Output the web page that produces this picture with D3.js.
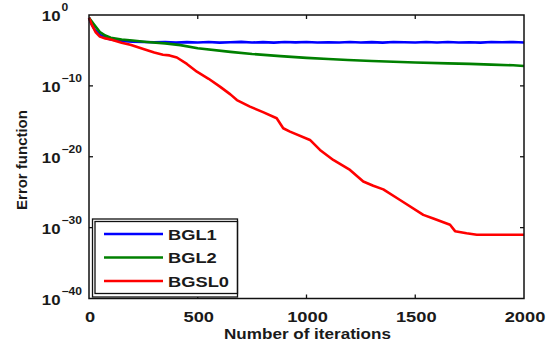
<!DOCTYPE html>
<html>
<head>
<meta charset="utf-8">
<script src="https://cdn.jsdelivr.net/npm/d3@7"></script>
<style>
  body { margin: 0; background: #fff; }
  text { font-family: "Liberation Sans", Arial, sans-serif; font-weight: bold; fill: #1a1a1a; }
</style>
</head>
<body>
<svg width="553" height="347"></svg>
<script>
// values are log10 of the error
const bgl1Iter = [0, 10, 25, 50, 75, 100, 150, 200, 250, 300, 350, 400, 450, 500, 550, 600, 650, 700, 750, 800, 850, 900, 950, 1000, 1050, 1100, 1150, 1200, 1250, 1300, 1350, 1400, 1450, 1500, 1550, 1600, 1650, 1700, 1750, 1800, 1850, 1900, 1950, 2000];
const bgl1Exp = [-0.4, -1.2, -2.0, -2.8, -3.2, -3.45, -3.65, -3.75, -3.8, -3.85, -3.8, -3.9, -3.83, -3.87, -3.81, -3.9, -3.85, -3.79, -3.88, -3.83, -3.9, -3.82, -3.86, -3.8, -3.89, -3.84, -3.88, -3.81, -3.87, -3.83, -3.9, -3.81, -3.85, -3.89, -3.82, -3.87, -3.8, -3.88, -3.84, -3.9, -3.82, -3.85, -3.81, -3.87];

const bgl2Iter = [0, 25, 50, 75, 100, 150, 200, 266, 350, 420, 500, 650, 750, 880, 1000, 1100, 1190, 1300, 1400, 1500, 1650, 1750, 1850, 1950, 2000];
const bgl2Exp = [-0.4, -1.4, -2.4, -2.9, -3.2, -3.45, -3.6, -3.8, -4.0, -4.25, -4.7, -5.2, -5.5, -5.8, -6.05, -6.2, -6.36, -6.5, -6.6, -6.7, -6.83, -6.9, -7.0, -7.1, -7.2];

const bgsl0Iter = [0, 15, 30, 50, 75, 100, 150, 190, 250, 300, 340, 370, 404, 450, 496, 550, 602, 650, 680, 740, 800, 863, 893, 924, 1016, 1062, 1123, 1200, 1261, 1307, 1353, 1430, 1537, 1583, 1660, 1683, 1736, 1783, 1850, 1950, 2000];
const bgsl0Exp = [-0.4, -1.5, -2.4, -3.05, -3.3, -3.45, -3.9, -4.2, -4.8, -5.3, -5.6, -5.7, -6.0, -6.9, -8.0, -9.0, -10.1, -11.2, -12.0, -12.93, -13.7, -14.57, -15.98, -16.45, -17.63, -19.04, -20.45, -21.86, -23.5, -24.1, -24.6, -26.1, -28.2, -28.7, -29.6, -30.5, -30.8, -31.0, -31.0, -31.0, -31.0];

const seriesNames = ["BGL1", "BGL2", "BGSL0"];
const seriesColors = ["#0000ff", "#008000", "#ff0000"];
const xTicks = [0, 500, 1000, 1500, 2000];
const yTickExp = [0, -10, -20, -30, -40];

const svg = d3.select("svg");
const plotLeft = 89, plotRight = 524, plotTop = 15, plotBottom = 298.5;
const HS = 1.22; // the original picture is stretched sideways a bit

const x = d3.scaleLinear().domain([0, 2000]).range([plotLeft, plotRight]);
const y = d3.scaleLog().domain([1e-40, 1]).range([plotBottom, plotTop]);

const series = [
  { name: seriesNames[0], color: seriesColors[0], pts: bgl1Iter.map((it, i) => [it, Math.pow(10, bgl1Exp[i])]) },
  { name: seriesNames[1], color: seriesColors[1], pts: bgl2Iter.map((it, i) => [it, Math.pow(10, bgl2Exp[i])]) },
  { name: seriesNames[2], color: seriesColors[2], pts: bgsl0Iter.map((it, i) => [it, Math.pow(10, bgsl0Exp[i])]) }
];

const line = d3.line().x(d => x(d[0])).y(d => y(d[1]));

function stretched(g, tx, ty, sx) {
  return g.append("text").attr("transform", "translate(" + tx + "," + ty + ") scale(" + sx + ",1)");
}

// lines
svg.append("g").selectAll("path")
  .data(series)
  .join("path")
  .attr("d", d => line(d.pts))
  .attr("fill", "none")
  .attr("stroke", d => d.color)
  .attr("stroke-width", 2.6)
  .attr("stroke-linejoin", "round");

// ticks (inside, on all four sides)
const tk = svg.append("g").attr("stroke", "#111").attr("stroke-width", 1.3);
xTicks.slice(1, -1).forEach(t => {
  tk.append("line").attr("x1", x(t)).attr("x2", x(t)).attr("y1", plotBottom).attr("y2", plotBottom - 4);
  tk.append("line").attr("x1", x(t)).attr("x2", x(t)).attr("y1", plotTop).attr("y2", plotTop + 4);
});
yTickExp.slice(1, -1).forEach(e => {
  const yy = y(Math.pow(10, e));
  tk.append("line").attr("x1", plotLeft).attr("x2", plotLeft + 4).attr("y1", yy).attr("y2", yy);
  tk.append("line").attr("x1", plotRight).attr("x2", plotRight - 4).attr("y1", yy).attr("y2", yy);
});

// frame
svg.append("rect")
  .attr("x", plotLeft).attr("y", plotTop)
  .attr("width", plotRight - plotLeft).attr("height", plotBottom - plotTop)
  .attr("fill", "none").attr("stroke", "#111").attr("stroke-width", 1.5);

// x tick labels
const xl = svg.append("g");
xTicks.forEach(t => {
  stretched(xl, x(t) + 1, 322, HS)
    .attr("text-anchor", "middle").attr("font-size", 15).text(t);
});

// y tick labels: 10 with superscript
const yl = svg.append("g");
yTickExp.forEach(e => {
  const yy = y(Math.pow(10, e));
  stretched(yl, 60.5, yy + 6, 1.12)
    .attr("text-anchor", "end").attr("font-size", 15).text("10");
  stretched(yl, 61.5, yy - 4, 1.15)
    .attr("font-size", 10.5).text(e === 0 ? "0" : "\u2212" + Math.abs(e));
});

// axis labels
stretched(svg, (plotLeft + plotRight) / 2 + 1, 339, HS)
  .attr("text-anchor", "middle").attr("font-size", 14)
  .text("Number of iterations");
svg.append("text")
  .attr("transform", "translate(26.5,160) rotate(-90) scale(1.07,1.1)")
  .attr("text-anchor", "middle").attr("font-size", 14)
  .text("Error function");

// legend
const lg = svg.append("g");
lg.append("rect").attr("x", 92.5).attr("y", 219).attr("width", 145).attr("height", 78)
  .attr("fill", "#fff").attr("stroke", "#111").attr("stroke-width", 1.3);
lg.append("rect").attr("x", 95).attr("y", 221.5).attr("width", 142.5).attr("height", 72)
  .attr("fill", "none").attr("stroke", "#111").attr("stroke-width", 1.3);
series.forEach((s, i) => {
  const yy = 234 + i * 23.5;
  lg.append("line").attr("x1", 104).attr("x2", 163).attr("y1", yy).attr("y2", yy)
    .attr("stroke", s.color).attr("stroke-width", 2.6);
  stretched(lg, 168, yy + 5.5, HS).attr("font-size", 15).text(s.name);
});
</script>
</body>
</html>
